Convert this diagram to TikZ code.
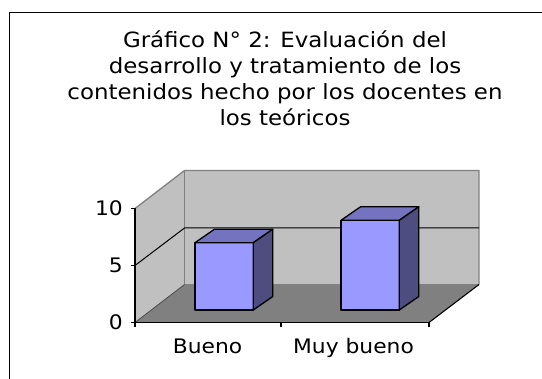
\documentclass[tikz,border=0pt]{standalone}
\usepackage{fontspec}
\setmainfont[FakeStretch=1.09]{DejaVu Sans}
\definecolor{wallc}{RGB}{192,192,192}
\definecolor{floorc}{RGB}{128,128,128}
\definecolor{edgec}{RGB}{128,128,128}
\definecolor{barfront}{RGB}{153,153,255}
\definecolor{bartop}{RGB}{115,115,191}
\definecolor{barside}{RGB}{77,77,128}
\tikzset{
  titletext/.style={anchor=base, inner sep=0pt, font=\fontsize{21}{25}\selectfont},
  axistext/.style={inner sep=0pt, font=\fontsize{20}{24}\selectfont},
  walledge/.style={draw=edgec, line width=1.3pt},
  gridl/.style={draw=black, line width=1pt},
  axisl/.style={draw=black, line width=1.1pt},
  barline/.style={draw=black, line width=1.3pt, line join=round},
}
\begin{document}
\begin{tikzpicture}[x=1pt,y=-1pt]
\useasboundingbox (0,0) rectangle (542,379);
% outer frame
\draw[line width=1.4pt] (9.5,385) -- (9.5,12.7) -- (550,12.7);
% title
\node[titletext] (t1) at (285,47.7) {Gráfico N° 2: Evaluación del};
\node[titletext] (t2) at (285,73.5) {desarrollo y tratamiento de los};
\node[titletext] (t3) at (285,99.3) {contenidos hecho por los docentes en};
\node[titletext] (t4) at (285,125.1) {los teóricos};
% walls and floor
\fill[wallc] (135,322.5) -- (184.5,284.5) -- (184.5,170.5) -- (135,208.5) -- cycle;
\fill[wallc] (184.5,170.5) rectangle (479,284.5);
\fill[floorc] (135,322.5) -- (429,322.5) -- (479,284.5) -- (184.5,284.5) -- cycle;
\draw[walledge] (135,208.5) -- (184.5,170.5) -- (479,170.5) -- (479,284.5);
\draw[walledge] (184.5,170.5) -- (184.5,284.5) -- (479,284.5);
% gridline 5
\draw[gridl] (135,265.5) -- (184.5,228) -- (479,228);
% floor edges
\draw[draw=black!70, line width=0.8pt] (135,322.5) -- (184.5,284.5);
\draw[axisl] (429,322.5) -- (479,284.5);
% axes
\draw[axisl] (135,208.5) -- (135,322.5) -- (429,322.5);
\draw[axisl] (131,208.5) -- (135,208.5);
\draw[axisl] (131,265.5) -- (135,265.5);
\draw[axisl] (131,322.5) -- (135,322.5);
\draw[axisl] (135,322.5) -- (135,326.7);
\draw[axisl] (281,322.5) -- (281,326.7);
\draw[axisl] (429,322.5) -- (429,326.7);
% value labels
\node[axistext, anchor=base east] (v10) at (123,215.5) {10};
\node[axistext, anchor=base east] (v5) at (123,272.5) {5};
\node[axistext, anchor=base east] (v0) at (123,329.5) {0};
% category labels
\node[axistext, anchor=base] (c1) at (207.5,353.3) {Bueno};
\node[axistext, anchor=base] (c2) at (353.5,353.3) {Muy bueno};
% bar Bueno
\filldraw[barline, fill=barfront] (195,242.7) rectangle (253.3,310);
\filldraw[barline, fill=bartop] (195,242.7) -- (253.3,242.7) -- (272.8,229.2) -- (214.5,229.2) -- cycle;
\filldraw[barline, fill=barside] (253.3,310) -- (272.8,296.5) -- (272.8,229.2) -- (253.3,242.7) -- cycle;
% bar Muy bueno
\filldraw[barline, fill=barfront] (341,220.3) rectangle (399.3,310);
\filldraw[barline, fill=bartop] (341,220.3) -- (399.3,220.3) -- (418.8,206.8) -- (360.5,206.8) -- cycle;
\filldraw[barline, fill=barside] (399.3,310) -- (418.8,296.5) -- (418.8,206.8) -- (399.3,220.3) -- cycle;
\end{tikzpicture}
\end{document}
